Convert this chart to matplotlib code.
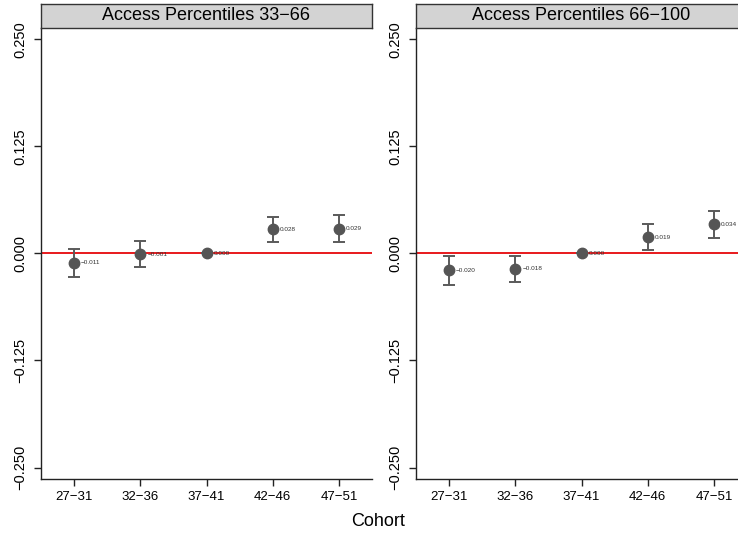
import matplotlib
matplotlib.use("Agg")
import matplotlib.pyplot as plt

plt.rcParams['font.family'] = ['Liberation Sans', 'DejaVu Sans']

cohorts = ["27\u221231", "32\u221236", "37\u221241", "42\u221246", "47\u221251"]
panels = ["Access Percentiles 33\u221266", "Access Percentiles 66\u2212100"]

est_33_66 = [-0.011, -0.001, 0.000, 0.028, 0.029]
lo_33_66 = [-0.0275, -0.0165, 0.000, 0.0130, 0.0135]
hi_33_66 = [0.0055, 0.0145, 0.000, 0.0430, 0.0445]

est_66_100 = [-0.020, -0.018, 0.000, 0.019, 0.034]
lo_66_100 = [-0.0365, -0.0330, 0.000, 0.0040, 0.0180]
hi_66_100 = [-0.0035, -0.0030, 0.000, 0.0340, 0.0500]

yticks = [-0.250, -0.125, 0.000, 0.125, 0.250]
ytick_labels = ["\u22120.250", "\u22120.125", "0.000", "0.125", "0.250"]

W, H = 738, 537
fig = plt.figure(figsize=(W / 100, H / 100), dpi=100)

data = [(est_33_66, lo_33_66, hi_33_66), (est_66_100, lo_66_100, hi_66_100)]
lefts = [41, 416]
pw = 331
top, bottom = 28, 478.7
strip_top = 4

for i, (est, lo, hi) in enumerate(data):
    ax = fig.add_axes([lefts[i] / W, (H - bottom) / H, pw / W, (bottom - top) / H])
    x = list(range(1, len(cohorts) + 1))
    yerr = [[e - l for e, l in zip(est, lo)], [h - e for e, h in zip(est, hi)]]
    ax.axhline(0, color='#e8191c', lw=1.4, zorder=1)
    ax.errorbar(x, est, yerr=yerr, fmt='o', color='#555555', ecolor='#5a5a5a',
                elinewidth=1.4, capsize=4, capthick=1.4, markersize=7.5, zorder=3)
    for xi, e in zip(x, est):
        lbl = f"{e:.3f}".replace('-', '\u2212')
        ax.annotate(lbl, (xi, e), xytext=(5, 0), textcoords='offset points',
                    ha='left', va='center', fontsize=4.6, color='#333333', zorder=4)
    ax.set_xlim(0.5, 5.5)
    ax.set_ylim(-0.263, 0.263)
    ax.set_xticks(x)
    ax.set_xticklabels(cohorts, fontsize=9.5)
    ax.set_yticks(yticks)
    ax.set_yticklabels(ytick_labels, fontsize=10.5, rotation=90, va='center')
    ax.spines['top'].set_visible(False)
    ax.spines['right'].set_visible(False)
    for s in ['left', 'bottom']:
        ax.spines[s].set_linewidth(1.0)
        ax.spines[s].set_color('#222222')
    ax.tick_params(axis='both', length=5, width=1.0, color='#222222')
    ax.tick_params(axis='y', pad=5)
    ax.tick_params(axis='x', pad=4)
    ax.set_facecolor('white')

    sax = fig.add_axes([lefts[i] / W, (H - top) / H, pw / W, (top - strip_top) / H])
    sax.set_facecolor('#d3d3d3')
    sax.set_xticks([])
    sax.set_yticks([])
    for s in sax.spines.values():
        s.set_linewidth(1.0)
        s.set_color('#333333')
    sax.text(0.5, 0.5, panels[i], ha='center', va='center', fontsize=13,
             transform=sax.transAxes)

fig.text(378.5 / W, (H - 522) / H, "Cohort", ha='center', va='center', fontsize=13)

fig.savefig("out.png", dpi=100)
